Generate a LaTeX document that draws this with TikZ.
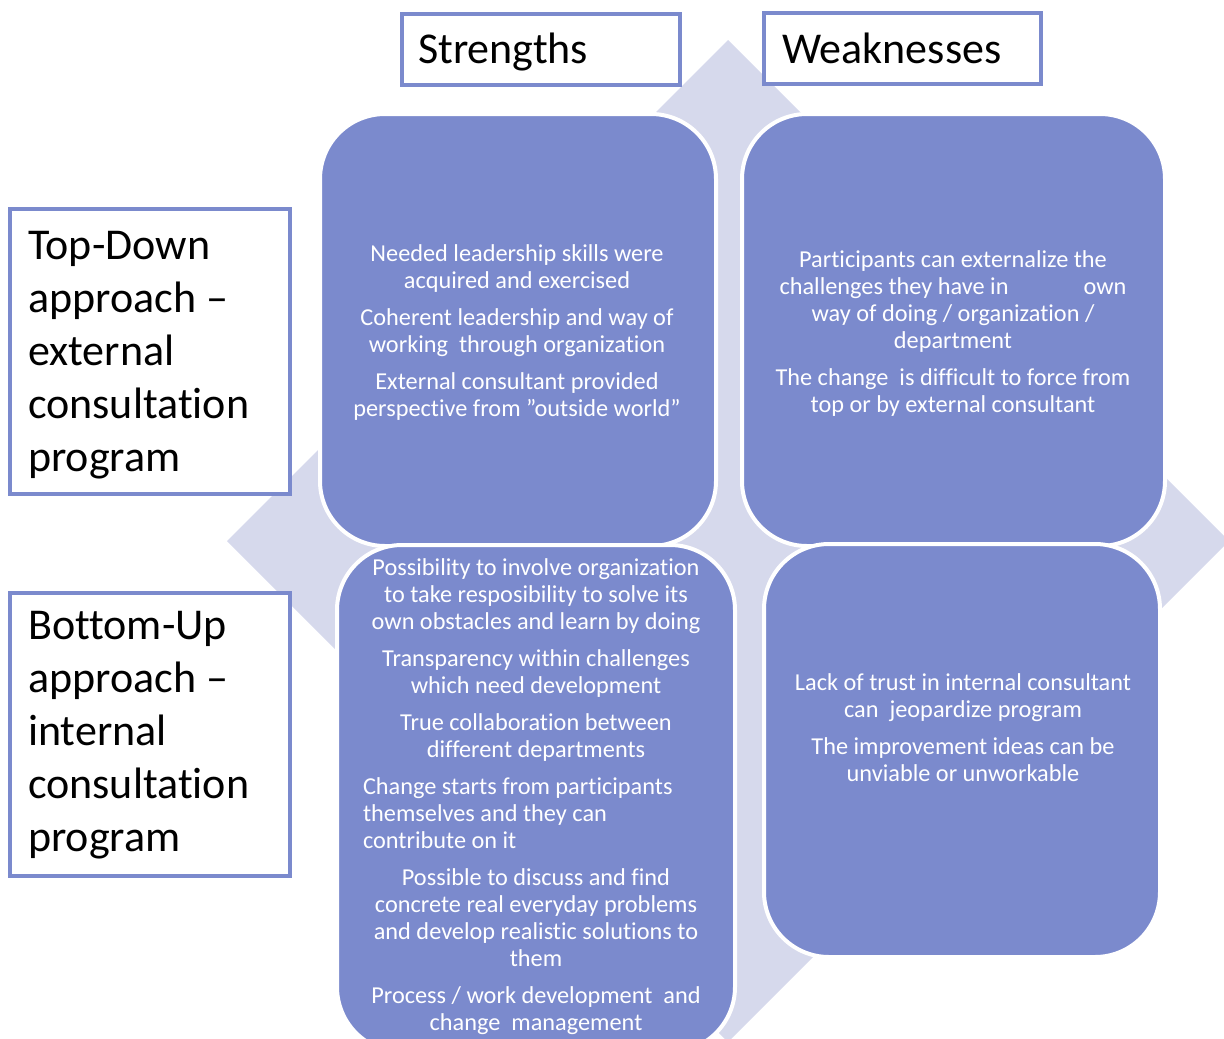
\documentclass[tikz,border=0pt]{standalone}
\usepackage{fontspec}
\setmainfont{Carlito}[Ligatures=NoCommon]
\definecolor{tilefill}{HTML}{7B8ACD}
\definecolor{diamondfill}{HTML}{D6D9EC}
\definecolor{labelrule}{HTML}{7B8ACD}

\tikzset{
  tile/.style={draw=white, line width=4pt, fill=tilefill, rounded corners=65pt,
    inner sep=0pt, outer sep=0pt},
  labelbox/.style={draw=labelrule, line width=4pt, fill=white, inner sep=0pt},
  tiletext/.style={text=white, font=\fontsize{24.3}{27}\selectfont, align=center,
    inner sep=0pt, anchor=north},
  headtext/.style={text=black, font=\fontsize{44}{53}\selectfont, align=left,
    inner sep=0pt},
}

\begin{document}
\begin{tikzpicture}[x=1pt, y=-1pt]
\useasboundingbox (0,0) rectangle (1224,1039);
\clip (0,0) rectangle (1224,1039);

% background diamond
\fill[diamondfill] (728,40) -- (1229,541) -- (728,1042) -- (227,541) -- cycle;

% column and row headings
\node[labelbox, minimum width=278pt, minimum height=71pt] (strbox) at (541,49.5) {};
\node[headtext, anchor=base west] (strtext) at (418,63) {Strengths};
\node[labelbox, minimum width=277pt, minimum height=71pt] (weakbox) at (902.5,48.5) {};
\node[headtext, anchor=base west] (weaktext) at (782,63) {Weaknesses};

\node[labelbox, minimum width=280pt, minimum height=285pt] (tdbox) at (150,351.5) {};
\node[headtext, anchor=north west] (tdtext) at (28,231)
  {Top-Down\\approach –\\external\\consultation\\program};
\node[labelbox, minimum width=280pt, minimum height=283pt] (bubox) at (150,734.5) {};
\node[headtext, anchor=north west] (butext) at (28,611)
  {Bottom-Up\\approach –\\internal\\consultation\\program};

% quadrant tiles
\node[tile, minimum width=396pt, minimum height=432pt] (tl) at (518,330) {};
\node[tile, minimum width=423pt, minimum height=432pt] (tr) at (953.5,330) {};
\node[tile, minimum width=398pt, minimum height=507pt] (bl) at (536,798.5) {};
\node[tile, minimum width=396pt, minimum height=413pt] (br) at (962,750.5) {};

% tile contents
\node[tiletext] (tltext) at (517,244)
  {Needed leadership skills were\\acquired and exercised\\[10pt]
   Coherent leadership and way of\\working\ \ through organization\\[10pt]
   External consultant provided\\perspective from ”outside world”};

\node[tiletext] (trtext) at (953,250)
  {Participants can externalize the\\challenges they have in\hspace*{75pt}own\\
   way of doing / organization /\\department\\[10pt]
   The change\ \ is difficult to force from\\top or by external consultant};

\node[tiletext] (bltext) at (536,558)
  {Possibility to involve organization\\to take resposibility to solve its\\
   own obstacles and learn by doing\\[10pt]
   Transparency within challenges\\which need development\\[10pt]
   True collaboration between\\different departments\\[10pt]
   \makebox[346pt][l]{Change starts from participants}\\
   \makebox[346pt][l]{themselves and they can}\\
   \makebox[346pt][l]{contribute on it}\\[10pt]
   Possible to discuss and find\\concrete real everyday problems\\
   and develop realistic solutions to\\them\\[10pt]
   Process / work development\ \ and\\change\ \ management};

\node[tiletext] (brtext) at (963,673)
  {Lack of trust in internal consultant\\can\ \ jeopardize program\\[10pt]
   The improvement ideas can be\\unviable or unworkable};
\end{tikzpicture}
\end{document}
